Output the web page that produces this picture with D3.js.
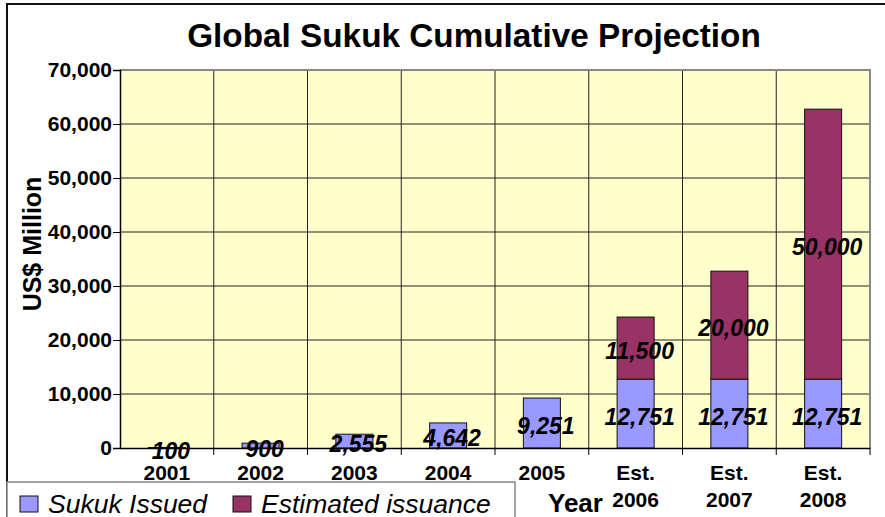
<!DOCTYPE html>
<html>
<head>
<meta charset="utf-8">
<script src="https://cdn.jsdelivr.net/npm/d3@7"></script>
<style>
  body { margin: 0; background: #fff; }
  svg text { font-family: "Liberation Sans", Arial, sans-serif; }
</style>
</head>
<body>
<script>
// chart data
var categories = ["2001", "2002", "2003", "2004", "2005", "Est. 2006", "Est. 2007", "Est. 2008"];
var issued = [100, 900, 2555, 4642, 9251, 12751, 12751, 12751];
var estimated = [0, 0, 0, 0, 0, 11500, 20000, 50000];
var yTicks = [0, 10000, 20000, 30000, 40000, 50000, 60000, 70000];
var seriesNames = ["Sukuk Issued", "Estimated issuance"];
var seriesColors = ["#9999FF", "#993366"];

var W = 885, H = 517;
var plot = { left: 120, right: 870, top: 70, bottom: 448 };

var svg = d3.select("body").append("svg")
    .attr("width", W)
    .attr("height", H);

// outer chart border (runs off right and bottom)
svg.append("rect")
    .attr("x", 7).attr("y", 4)
    .attr("width", W + 10).attr("height", H + 10)
    .attr("fill", "#fff")
    .attr("stroke", "#111")
    .attr("stroke-width", 2);

//title
svg.append("text")
    .attr("x", 474).attr("y", 47)
    .attr("text-anchor", "middle")
    .style("font-size", "33.3px")
    .style("font-weight", "bold")
    .text("Global Sukuk Cumulative Projection");

//scales
var x = d3.scaleBand()
    .domain(categories)
    .range([plot.left, plot.right])
    .paddingInner(0.605)
    .paddingOuter(0.3025);

var y = d3.scaleLinear()
    .domain([0, 70000])
    .range([plot.bottom, plot.top]);

var step = x.step();

//plot background
svg.append("rect")
    .attr("x", plot.left).attr("y", plot.top)
    .attr("width", plot.right - plot.left)
    .attr("height", plot.bottom - plot.top)
    .attr("fill", "#FFFFCC");

//horizontal grid lines
svg.append("g").selectAll("line")
    .data(yTicks.filter(function(d) { return d > 0 && d < 70000; }))
    .enter().append("line")
    .attr("x1", plot.left).attr("x2", plot.right)
    .attr("y1", function(d) { return y(d); })
    .attr("y2", function(d) { return y(d); })
    .attr("stroke", "#222")
    .attr("stroke-width", 1);

//vertical grid lines at category boundaries
svg.append("g").selectAll("line")
    .data(categories.slice(1))
    .enter().append("line")
    .attr("x1", function(d) { return x(d) - (step - x.bandwidth()) / 2; })
    .attr("x2", function(d) { return x(d) - (step - x.bandwidth()) / 2; })
    .attr("y1", plot.top).attr("y2", plot.bottom)
    .attr("stroke", "#222")
    .attr("stroke-width", 1);

//plot border top and right (grey)
svg.append("path")
    .attr("d", "M" + plot.left + "," + plot.top + "H" + plot.right + "V" + plot.bottom)
    .attr("fill", "none")
    .attr("stroke", "#888")
    .attr("stroke-width", 2);

//stacked bars
var stackData = categories.map(function(c, i) {
  return { cat: c, issued: issued[i], estimated: estimated[i] };
});
var stack = d3.stack().keys(["issued", "estimated"]);
var layers = stack(stackData);

svg.append("g").selectAll("g")
    .data(layers)
    .enter().append("g")
    .attr("fill", function(d, i) { return seriesColors[i]; })
  .selectAll("rect")
    .data(function(d) { return d.filter(function(p) { return p[1] - p[0] > 0; }); })
    .enter().append("rect")
    .attr("x", function(d) { return x(d.data.cat); })
    .attr("width", x.bandwidth())
    .attr("y", function(d) { return y(d[1]); })
    .attr("height", function(d) { return y(d[0]) - y(d[1]); })
    .attr("stroke", "#111")
    .attr("stroke-width", 1);

//y axis
var yAxis = d3.axisLeft(y)
    .tickValues(yTicks)
    .tickSize(7)
    .tickPadding(1)
    .tickFormat(d3.format(","));

var gy = svg.append("g")
    .attr("transform", "translate(" + plot.left + ",0)")
    .call(yAxis);
gy.select(".domain").attr("stroke", "#000").attr("stroke-width", 1.5);
gy.selectAll(".tick line").attr("stroke", "#000");
gy.selectAll("text")
    .attr("fill", "#000")
    .style("font-size", "21px")
    .style("font-weight", "bold")
    .style("font-family", "'Liberation Sans', Arial, sans-serif");

//x axis line and boundary ticks
var xAxis = d3.axisBottom(x).tickSize(0).tickFormat("");
var gx = svg.append("g")
    .attr("transform", "translate(0," + plot.bottom + ")")
    .call(xAxis);
gx.select(".domain").attr("stroke", "#000").attr("stroke-width", 1.5);

svg.append("g").selectAll("line")
    .data(categories.slice(1).concat(["end"]))
    .enter().append("line")
    .attr("x1", function(d) { return d === "end" ? plot.right : x(d) - (step - x.bandwidth()) / 2; })
    .attr("x2", function(d) { return d === "end" ? plot.right : x(d) - (step - x.bandwidth()) / 2; })
    .attr("y1", plot.bottom).attr("y2", plot.bottom + 7)
    .attr("stroke", "#000");

//category labels (two lines for estimates)
var catLabels = svg.append("g").selectAll("text")
    .data(categories)
    .enter().append("text")
    .attr("x", function(d) { return x(d) + x.bandwidth() / 2; })
    .attr("y", 480)
    .attr("text-anchor", "middle")
    .style("font-size", "21px")
    .style("font-weight", "bold");
catLabels.each(function(d) {
  var parts = d.split(" ");
  var t = d3.select(this);
  parts.forEach(function(p, i) {
    t.append("tspan")
      .attr("x", x(d) + x.bandwidth() / 2)
      .attr("dy", i === 0 ? 0 : 27)
      .text(p);
  });
});

//value labels
var labelData = [];
layers.forEach(function(layer) {
  layer.forEach(function(p) {
    if (p[1] - p[0] > 0) labelData.push({ cat: p.data.cat, lo: p[0], hi: p[1], v: p[1] - p[0] });
  });
});
svg.append("g").selectAll("text")
    .data(labelData)
    .enter().append("text")
    .attr("x", function(d) { return x(d.cat) + x.bandwidth() / 2 + 4; })
    .attr("y", function(d) { return (y(d.lo) + y(d.hi)) / 2 + 3; })
    .attr("dominant-baseline", "central")
    .attr("text-anchor", "middle")
    .style("font-size", "23px")
    .style("font-weight", "bold")
    .style("font-style", "italic")
    .text(function(d) { return d3.format(",")(d.v); });

//y axis title
svg.append("text")
    .attr("text-anchor", "middle")
    .attr("transform", "translate(41,244)rotate(-90)")
    .style("font-size", "25px")
    .style("font-weight", "bold")
    .text("US$ Million");

//x axis title
svg.append("text")
    .attr("x", 548).attr("y", 512)
    .style("font-size", "26px")
    .style("font-weight", "bold")
    .text("Year");

//legend box
svg.append("rect")
    .attr("x", 7).attr("y", 482)
    .attr("width", 508).attr("height", 60)
    .attr("fill", "#fff")
    .attr("stroke", "#888")
    .attr("stroke-width", 1.5);

var legendX = [20, 233];
var legend = svg.append("g").selectAll("g")
    .data(seriesNames)
    .enter().append("g")
    .attr("transform", function(d, i) { return "translate(" + legendX[i] + ",0)"; });
legend.append("rect")
    .attr("x", 0).attr("y", 496)
    .attr("width", 18).attr("height", 16)
    .attr("fill", function(d, i) { return seriesColors[i]; })
    .attr("stroke", "#111");
legend.append("text")
    .attr("x", 28).attr("y", 513)
    .style("font-size", "26.5px")
    .style("font-style", "italic")
    .text(function(d) { return d; });
</script>
</body>
</html>
